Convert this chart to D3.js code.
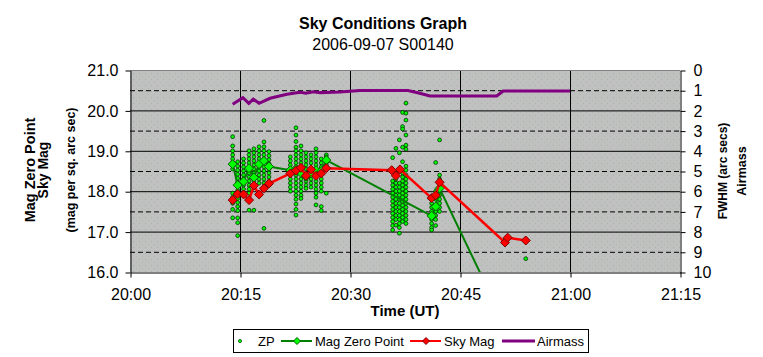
<!DOCTYPE html>
<html><head><meta charset="utf-8">
<script src="https://cdn.jsdelivr.net/npm/d3@7"></script>
<style>
html,body{margin:0;padding:0;background:#fff;}
svg text{font-family:"Liberation Sans",Arial,sans-serif;fill:#000;}
</style></head>
<body>
<svg id="chart" width="763" height="357"></svg>
<script>
// ---------------- data ----------------
const xTickLabels = ["20:00","20:15","20:30","20:45","21:00","21:15"];
const leftTicks = [16,17,18,19,20,21];
const rightTicks = [0,1,2,3,4,5,6,7,8,9,10];

// ZP individual measurements (columns of points by time)
const zpTimes = ["20:14:00","20:14:41","20:15:29","20:16:14","20:16:54","20:17:36","20:18:16","20:18:57",
  "20:21:52","20:22:38","20:23:19","20:24:00","20:24:41","20:25:22","20:26:05","20:26:46",
  "20:35:49","20:36:16","20:36:44","20:37:10","20:37:38",
  "20:41:08","20:41:41","20:42:13","20:51:08","20:51:30","20:53:58"];
const zpValues = [
  [19.35,19.12,19.0,18.9,18.8,18.67,18.55,17.95,17.85,17.7,17.55,17.34],
  [18.73,18.62,18.52,18.42,18.32,18.22,18.12,18.02,17.92,17.82,17.72,17.62,17.52,17.34,17.22,16.9],
  [18.8,18.7,18.6,18.5,18.4,18.3,18.15,18.05,17.9],
  [19.0,18.9,18.8,18.7,18.6,18.45,18.35,18.25,18.15,18.05,17.95,17.8,17.53],
  [19.05,18.95,18.85,18.75,18.65,18.55,18.45,18.25,18.1,17.53],
  [19.1,19.0,18.9,18.8,18.7,18.6,18.5,18.4,18.3,18.2],
  [19.75,19.22,19.1,19.0,18.9,18.8,18.75,18.6,18.5,18.4,18.3,18.2,18.1,17.08],
  [18.98,18.88,18.78,18.68,18.55,18.45,18.35,18.25],
  [18.85,18.75,18.65,18.4,18.3,18.2,18.1,18.0],
  [19.57,19.39,19.23,19.09,19.0,18.9,18.8,18.7,18.6,18.4,18.3,18.2,18.1,18.0,17.9,17.8,17.68,17.55,17.41],
  [19.12,19.0,18.9,18.8,18.7,18.45,18.3,18.2,18.1,18.0,17.9,17.82],
  [18.95,18.85,18.75,18.65,18.55,18.25,18.15,18.07],
  [18.9,18.8,18.7,18.4,18.3,18.2,18.1],
  [19.05,18.95,18.85,18.75,18.65,18.25,18.15,18.05,17.95,17.85,17.66],
  [18.8,18.7,18.6,18.3,18.2,18.1,18.0,17.62,17.52],
  [18.9,18.85,18.7,18.65,17.95],
  [18.83,18.25,18.15,18.05,17.95,17.85,17.75,17.65,17.55,17.45,17.35,17.25,17.15,17.04],
  [19.06,18.3,18.2,18.1,18.0,17.9,17.8,17.7,17.6,17.5,17.4,17.3,17.16],
  [19.27,18.95,18.2,18.1,18.0,17.9,17.8,17.7,17.6,17.5,17.4,17.3,17.2,17.1,16.96],
  [19.95,19.6,19.54,19.09,18.73,18.45,18.35,18.25,18.15,18.05,17.95,17.85,17.75,17.65,17.55,17.45,17.35,17.25],
  [20.18,19.93,19.76,19.39,19.14,19.04,18.62,18.52,18.4,18.3,18.2,18.1,18.0,17.9,17.8,17.7,17.6,17.5,17.4,17.3,17.2],
  [17.7,17.6,17.5,17.3,17.2,17.1,17.04],
  [18.71,18.0,17.9,17.8,17.5,17.4,17.3,17.15],
  [19.27,18.4,18.3,18.2,18.0,17.9,17.8,17.7,17.6,17.5],
  [16.8],[16.85],[16.33,16.78]
];

// Mag Zero Point (averaged)
const mzpTimes = ["20:14:00","20:14:41","20:15:29","20:16:14","20:16:54","20:17:36","20:18:16","20:18:57",
  "20:21:52","20:22:38","20:23:19","20:24:00","20:24:41","20:25:22","20:26:05","20:26:46",
  "20:41:08","20:41:41","20:42:13","20:51:08"];
const mzpValues = [18.67,18.15,18.24,18.57,18.34,18.67,18.75,18.61,
  18.52,18.55,18.45,18.36,18.44,18.52,18.50,18.77,
  17.39,17.62,18.07,14.7];

// Sky Mag
const skyTimes = ["20:14:00","20:14:41","20:15:29","20:16:14","20:16:54","20:17:36","20:18:16","20:18:57",
  "20:21:52","20:22:38","20:23:19","20:24:00","20:24:41","20:25:22","20:26:05","20:26:46",
  "20:35:41","20:36:16","20:36:49","20:41:08","20:41:41","20:42:13",
  "20:51:08","20:51:30","20:53:58"];
const skyValues = [17.78,17.93,17.92,17.78,18.14,17.92,18.07,18.19,
  18.44,18.51,18.58,18.38,18.54,18.38,18.44,18.57,
  18.52,18.38,18.54,17.83,17.90,18.22,
  16.73,16.85,16.78];

// Airmass (right axis)
const airTimes = ["20:14:00","20:15:24","20:16:12","20:16:48","20:17:36","20:19:06","20:21:24","20:23:12",
  "20:24:00","20:25:00","20:25:54","20:27:42","20:28:36","20:31:24","20:37:54","20:39:30","20:40:54",
  "20:50:00","20:50:54","21:00:00"];
const airValues = [1.70,1.37,1.65,1.44,1.65,1.40,1.20,1.10,1.15,1.08,1.12,1.10,1.09,1.02,1.02,1.15,1.29,1.29,1.04,1.04];

// ---------------- drawing ----------------
const parse = d3.timeParse("%H:%M:%S");
const parseHM = d3.timeParse("%H:%M");
const svg = d3.select("#chart");
const L = 130, R = 680, T = 70, B = 272;

const x = d3.scaleTime().domain([parseHM(xTickLabels[0]), parseHM(xTickLabels[xTickLabels.length-1])]).range([L, R]);
const y = d3.scaleLinear().domain([16, 21]).range([B, T]);
const y2 = d3.scaleLinear().domain([0, 10]).range([T, B]);

// pattern background
const defs = svg.append("defs");
const pat = defs.append("pattern").attr("id","bg").attr("width",6).attr("height",6).attr("patternUnits","userSpaceOnUse");
pat.append("rect").attr("width",6).attr("height",6).attr("fill","#c0c0c0");
pat.append("rect").attr("x",1).attr("y",1).attr("width",1).attr("height",1).attr("fill","#9fb89f");
pat.append("rect").attr("x",4).attr("y",4).attr("width",1).attr("height",1).attr("fill","#aabcaa");
defs.append("clipPath").attr("id","clip").append("rect").attr("x",L).attr("y",T).attr("width",R-L).attr("height",B-T);

svg.append("rect").attr("x",L).attr("y",T).attr("width",R-L).attr("height",B-T).attr("fill","url(#bg)");

// gridlines
const grid = svg.append("g");
rightTicks.forEach(v => {
  if (v === 0 || v === 10) return;
  grid.append("line").attr("x1",L).attr("x2",R).attr("y1",y2(v)+0.5).attr("y2",y2(v)+0.5)
    .attr("stroke","#000").attr("stroke-width",1)
    .attr("stroke-dasharray", v % 2 ? "5,3" : null);
});
xTickLabels.slice(1,-1).forEach(t => {
  grid.append("line").attr("x1",x(parseHM(t))+0.5).attr("x2",x(parseHM(t))+0.5).attr("y1",T).attr("y2",B)
    .attr("stroke","#000").attr("stroke-width",1);
});
svg.append("line").attr("x1",L).attr("x2",R).attr("y1",T+0.5).attr("y2",T+0.5).attr("stroke","#808080");

// axes
const fontAxis = "16px";
const gL = svg.append("g").attr("transform",`translate(${L+0.5},0.5)`)
  .call(d3.axisLeft(y).tickValues(leftTicks).tickFormat(d3.format(".1f")).tickSize(5).tickSizeOuter(0).tickPadding(7));
const gR = svg.append("g").attr("transform",`translate(${R+0.5},0.5)`)
  .call(d3.axisRight(y2).tickValues(rightTicks).tickFormat(d3.format("d")).tickSize(5).tickSizeOuter(0).tickPadding(8));
const gB = svg.append("g").attr("transform",`translate(0.5,${B+0.5})`)
  .call(d3.axisBottom(x).tickValues(xTickLabels.map(parseHM)).tickFormat(d3.timeFormat("%H:%M")).tickSize(5).tickSizeOuter(0).tickPadding(11));
[gL,gR,gB].forEach(g => {
  g.selectAll("text").style("font-size",fontAxis).attr("fill","#000").style("font-family","'Liberation Sans',Arial,sans-serif");
  g.selectAll("line,path").attr("stroke","#000");
});

const plot = svg.append("g").attr("clip-path","url(#clip)");

// ZP points
const zpPts = [];
zpTimes.forEach((t,i) => zpValues[i].forEach(v => zpPts.push([parse(t), v])));
plot.append("g").selectAll("circle").data(zpPts).join("circle")
  .attr("cx", d => x(d[0])).attr("cy", d => y(d[1])).attr("r",1.9)
  .attr("fill","#00ff00").attr("stroke","#003300").attr("stroke-width",0.8);

const diamond = (s) => `M0,${-s}L${s},0L0,${s}L${-s},0Z`;

// Mag Zero Point
const mzp = mzpTimes.map((t,i) => [parse(t), mzpValues[i]]);
plot.append("path").datum(mzp).attr("fill","none").attr("stroke","#008000").attr("stroke-width",2)
  .attr("d", d3.line().x(d => x(d[0])).y(d => y(d[1])));
plot.append("g").selectAll("path").data(mzp).join("path")
  .attr("transform", d => `translate(${x(d[0])},${y(d[1])})`).attr("d", diamond(4.5))
  .attr("fill","#00ff00").attr("stroke","#006000").attr("stroke-width",1);

// Sky Mag
const sky = skyTimes.map((t,i) => [parse(t), skyValues[i]]);
plot.append("path").datum(sky).attr("fill","none").attr("stroke","#ff0000").attr("stroke-width",2.5)
  .attr("d", d3.line().x(d => x(d[0])).y(d => y(d[1])));
plot.append("g").selectAll("path").data(sky).join("path")
  .attr("transform", d => `translate(${x(d[0])},${y(d[1])})`).attr("d", diamond(4.5))
  .attr("fill","#ff0000").attr("stroke","#800000").attr("stroke-width",1);

// Airmass
const air = airTimes.map((t,i) => [parse(t), airValues[i]]);
plot.append("path").datum(air).attr("fill","none").attr("stroke","#800080").attr("stroke-width",3)
  .attr("d", d3.line().x(d => x(d[0])).y(d => y2(d[1])));

// titles
svg.append("text").attr("x",383).attr("y",29).attr("text-anchor","middle").style("font-size","16px").style("font-weight","bold").text("Sky Conditions Graph");
svg.append("text").attr("x",383).attr("y",50).attr("text-anchor","middle").style("font-size","16px").text("2006-09-07 S00140");
svg.append("text").attr("x",405).attr("y",316).attr("text-anchor","middle").style("font-size","15px").style("font-weight","bold").text("Time (UT)");

const lt = svg.append("g").attr("transform","translate(0,170) rotate(-90)");
lt.append("text").attr("x",0).attr("y",35).attr("text-anchor","middle").style("font-size","14.5px").style("font-weight","bold").text("Mag Zero Point");
lt.append("text").attr("x",0).attr("y",48).attr("text-anchor","middle").style("font-size","14px").style("font-weight","bold").text("Sky Mag");
lt.append("text").attr("x",0).attr("y",75).attr("text-anchor","middle").style("font-size","12.5px").style("font-weight","bold").text("(mag per sq. arc sec)");

const rt = svg.append("g").attr("transform","translate(0,171) rotate(-90)");
rt.append("text").attr("x",0).attr("y",727).attr("text-anchor","middle").style("font-size","12px").style("font-weight","bold").text("FWHM (arc secs)");
rt.append("text").attr("x",0).attr("y",746).attr("text-anchor","middle").style("font-size","12.5px").style("font-weight","bold").text("Airmass");

// legend
const lg = svg.append("g");
lg.append("rect").attr("x",233.5).attr("y",329.5).attr("width",355).attr("height",23).attr("fill","#fff").attr("stroke","#000");
const ly = 341;
lg.append("circle").attr("cx",240).attr("cy",ly).attr("r",1.6).attr("fill","#00ff00").attr("stroke","#003300").attr("stroke-width",0.7);
lg.append("text").attr("x",258).attr("y",ly+5).style("font-size","13px").text("ZP");
lg.append("line").attr("x1",281).attr("x2",312).attr("y1",ly).attr("y2",ly).attr("stroke","#008000").attr("stroke-width",2);
lg.append("path").attr("transform",`translate(297,${ly})`).attr("d",diamond(3.5)).attr("fill","#00ff00").attr("stroke","#006000");
lg.append("text").attr("x",315).attr("y",ly+5).style("font-size","13px").text("Mag Zero Point");
lg.append("line").attr("x1",410).attr("x2",441).attr("y1",ly).attr("y2",ly).attr("stroke","#ff0000").attr("stroke-width",2);
lg.append("path").attr("transform",`translate(426,${ly})`).attr("d",diamond(3.5)).attr("fill","#ff0000").attr("stroke","#800000");
lg.append("text").attr("x",444).attr("y",ly+5).style("font-size","13px").text("Sky Mag");
lg.append("line").attr("x1",502).attr("x2",535).attr("y1",ly).attr("y2",ly).attr("stroke","#800080").attr("stroke-width",3);
lg.append("text").attr("x",537).attr("y",ly+5).style("font-size","13px").text("Airmass");
</script>
</body></html>
